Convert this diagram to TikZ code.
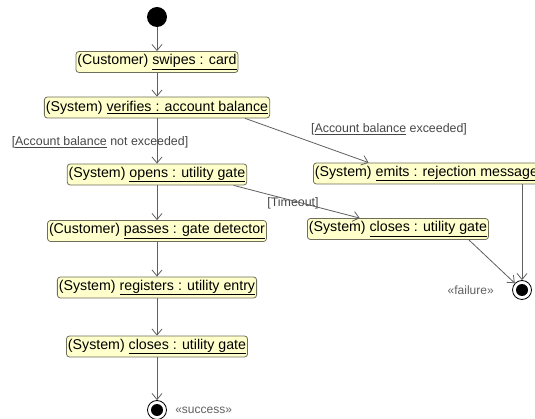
\documentclass[tikz,border=0pt]{standalone}
\usepackage{fontspec}
\setmainfont{Liberation Sans}
\usetikzlibrary{arrows.meta}
\usetikzlibrary{calc}
\definecolor{actfill}{RGB}{255,255,204}
\definecolor{actdraw}{RGB}{110,110,90}
\definecolor{flowgray}{RGB}{95,95,95}
\definecolor{guardgray}{RGB}{70,70,70}
\tikzset{>={Straight Barb[length=6pt,width=10pt]}}
\tikzstyle{action} = [%
					draw = actdraw,
					fill = actfill,
					rounded corners = 3pt,
					minimum height = 21pt,
					inner xsep = 1.5pt, inner ysep = 0pt,
					font = \fontsize{14.2}{16}\selectfont]
\tikzstyle{flow} = [%
					->,
					line width = 0.8,
					color = flowgray]
\tikzstyle{guard} = [%
					inner sep = 0pt,
					text = guardgray,
					font = \fontsize{12.4}{14}\selectfont]
\tikzstyle{initial} = [circle, fill = black, minimum size = 20pt, inner sep = 0pt]
\tikzstyle{final} = [%
					circle, draw = black, line width = 0.8,
					minimum size = 19pt, inner sep = 0pt,
					path picture = {\fill[black] (path picture bounding box.center) circle (6pt);}]

\begin{document}
\begin{tikzpicture}[x=1pt, y=-1pt, line width=.8pt]
	\useasboundingbox (0,0) rectangle (535,419);

	% Coordinates
	\coordinate (I)  at (157,17);
	\coordinate (E)  at (522,290);
	\coordinate (F)  at (157,410);

	% Nodes
	%% Start
	\node[initial] at (I) (start) {};
	%% Main flow
	\node[action] at (157,62)    (swipe)    {(Customer) \underline{swipes : card}};
	\node[action] at (157,107.5) (verify)   {(System) \underline{verifies : account balance}};
	\node[action] at (157,174.5) (open)     {(System) \underline{opens : utility gate}};
	\node[action] at (157,231)   (pass)     {(Customer) \underline{passes : gate detector}};
	\node[action] at (157,287.5) (register) {(System) \underline{registers : utility entry}};
	\node[action] at (157,346.5) (close)    {(System) \underline{closes : utility gate}};
	%% Rejection flow
	\node[action, anchor=west] at (313,173.5) (emit)   {(System) \underline{emits : rejection message}};
	\node[action, anchor=west] at (307,229)   (closeR) {(System) \underline{closes : utility gate}};
	%% Ends
	\node[final, label={[label distance=18pt, guard, text=flowgray, font=\fontsize{12}{14}\selectfont]left:«failure»}] at (E) (fail) {};
	\node[final, label={[label distance=8pt, guard, text=flowgray, font=\fontsize{12}{14}\selectfont]right:«success»}] at (F) (success) {};

	% Guards
	\node[guard] at (100,142) (gNot)  {[\underline{Account balance} not exceeded]};
	\node[guard] at (389,129) (gExc)  {[\underline{Account balance} exceeded]};
	\node[guard] at (293,203) (gTime) {[Timeout]};

	% Flows
	\draw[flow] (start) -- (swipe);
	\draw[flow] (swipe) -- (verify);
	\draw[flow] (verify) -- (open);
	\draw[flow] (open) -- (pass);
	\draw[flow] (pass) -- (register);
	\draw[flow] (register) -- (close);
	\draw[flow] (close) -- (success);
	\draw[flow] ($(verify.south)!0.78!(verify.south east)$) -- ($(emit.north west)!0.245!(emit.north east)$);
	\draw[flow] ($(open.south)!0.85!(open.south east)$) -- ($(closeR.north west)!0.29!(closeR.north east)$);
	\draw[flow] (emit.south -| fail) -- (fail);
	\draw[flow] ($(closeR.south west)!0.89!(closeR.south east)$) -- (fail);
\end{tikzpicture}
\end{document}
